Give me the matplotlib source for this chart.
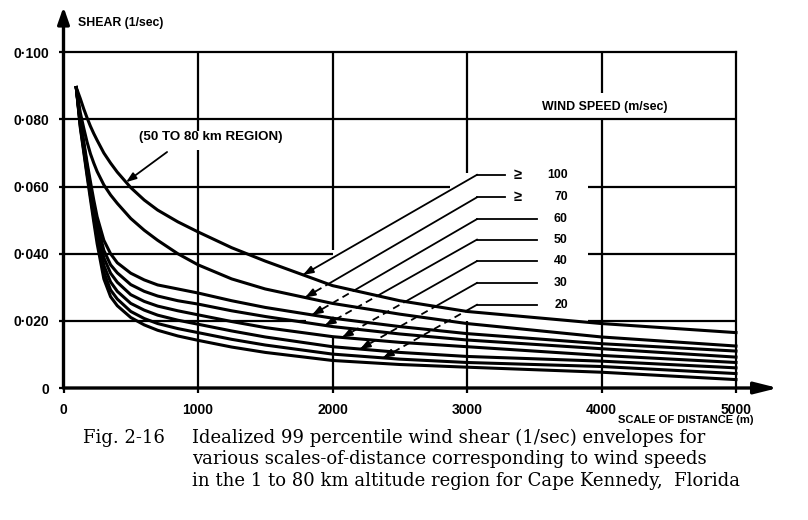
"""Idealized 99 percentile wind shear envelopes vs scale of distance (Cape Kennedy)."""
import numpy as np
import matplotlib
matplotlib.use("Agg")
import matplotlib.pyplot as plt

distance_m = [95, 125, 150, 175, 200, 225, 250, 300, 350, 400, 500, 600, 700, 850,
              1000, 1250, 1500, 2000, 2500, 3000, 4000, 5000]

# shear (1/sec) per envelope, top curve first
shear_ge100 = [0.0895, 0.0862, 0.0832, 0.0805, 0.0780, 0.0758, 0.0738, 0.0700, 0.0670,
               0.0643, 0.0597, 0.0560, 0.0530, 0.0495, 0.0465, 0.0418, 0.0378, 0.0305,
               0.0260, 0.0228, 0.0192, 0.0165]
shear_ge70 = [0.0895, 0.0820, 0.0775, 0.0733, 0.0698, 0.0670, 0.0645, 0.0605, 0.0575,
              0.0550, 0.0505, 0.0470, 0.0440, 0.0400, 0.0367, 0.0325, 0.0295, 0.0252,
              0.0220, 0.0192, 0.0152, 0.0125]
shear_60 = [0.0895, 0.0800, 0.0735, 0.0672, 0.0615, 0.0560, 0.0510, 0.0440, 0.0400,
            0.0373, 0.0342, 0.0322, 0.0307, 0.0295, 0.0283, 0.0260, 0.0240, 0.0208,
            0.0183, 0.0162, 0.0132, 0.0110]
shear_50 = [0.0895, 0.0795, 0.0728, 0.0662, 0.0602, 0.0545, 0.0490, 0.0410, 0.0367,
            0.0343, 0.0308, 0.0288, 0.0274, 0.0260, 0.0250, 0.0230, 0.0213, 0.0183,
            0.0161, 0.0143, 0.0117, 0.0092]
shear_40 = [0.0895, 0.0790, 0.0722, 0.0655, 0.0592, 0.0532, 0.0475, 0.0388, 0.0342,
            0.0315, 0.0278, 0.0258, 0.0244, 0.0230, 0.0218, 0.0198, 0.0180, 0.0153,
            0.0136, 0.0123, 0.0097, 0.0076]
shear_30 = [0.0895, 0.0785, 0.0716, 0.0648, 0.0583, 0.0520, 0.0460, 0.0365, 0.0316,
            0.0288, 0.0252, 0.0232, 0.0217, 0.0202, 0.0190, 0.0170, 0.0152, 0.0123,
            0.0106, 0.0094, 0.0080, 0.0060]
shear_20 = [0.0895, 0.0780, 0.0710, 0.0640, 0.0573, 0.0508, 0.0445, 0.0345, 0.0292,
            0.0265, 0.0228, 0.0207, 0.0192, 0.0177, 0.0165, 0.0145, 0.0128, 0.0101,
            0.0086, 0.0076, 0.0064, 0.0043]
shear_lowest = [0.0895, 0.0775, 0.0704, 0.0632, 0.0563, 0.0495, 0.0430, 0.0325, 0.0272,
                0.0245, 0.0210, 0.0188, 0.0172, 0.0155, 0.0142, 0.0122, 0.0106, 0.0082,
                0.0070, 0.0062, 0.0047, 0.0025]

curves = [shear_ge100, shear_ge70, shear_60, shear_50, shear_40, shear_30, shear_20, shear_lowest]

speed_labels = ["100", "70", "60", "50", "40", "30", "20"]
speed_ge = [True, True, False, False, False, False, False]
# where each leader arrow touches its curve (m)
leader_tip_m = [1781, 1796, 1848, 1944, 2071, 2205, 2376]
leader_row_y = [0.0635, 0.0568, 0.0503, 0.0442, 0.0378, 0.0313, 0.0248]

x_ticks = [0, 1000, 2000, 3000, 4000, 5000]
x_ticklabels = ["0", "1000", "2000", "3000", "4000", "5000"]
y_ticks = [0, 0.02, 0.04, 0.06, 0.08, 0.10]
y_ticklabels = ["0", "0\u00b7020", "0\u00b7040", "0\u00b7060", "0\u00b7080", "0\u00b7100"]

SANS = "Liberation Sans"
SERIF = "DejaVu Serif"
K = "black"

fig = plt.figure(figsize=(8.08, 5.2), dpi=100)
ax = fig.add_axes([63.5 / 808, 1 - 388 / 520, 672.5 / 808, 335.7 / 520])
ax.set_xlim(0, 5000)
ax.set_ylim(0, 0.1)

for side in ("left", "bottom"):
    ax.spines[side].set_visible(False)
for side in ("top", "right"):
    ax.spines[side].set_linewidth(1.6)

ax.set_xticks(x_ticks, x_ticklabels)
ax.set_yticks(y_ticks, y_ticklabels)
ax.tick_params(direction="out", length=3.5, width=1.6, pad=7)
for lab in ax.get_xticklabels() + ax.get_yticklabels():
    lab.set_fontfamily(SANS)
    lab.set_fontweight("bold")
    lab.set_fontsize(10)

# broken grid lines (gaps where the labels sit)
grid_h = {0.08: [(0, 5000)], 0.06: [(0, 2874), (3900, 5000)],
          0.04: [(0, 2000), (3900, 5000)], 0.02: [(0, 1800), (3900, 5000)]}
grid_v = {1000: [(0, 0.0709), (0.0766, 0.1)], 2000: [(0, 0.015), (0.041, 0.1)],
          3000: [(0, 0.020), (0.064, 0.1)], 4000: [(0, 0.080), (0.088, 0.1)]}
for y, segs in grid_h.items():
    for a, b in segs:
        ax.plot([a, b], [y, y], color=K, lw=1.6, solid_capstyle="butt")
for x, segs in grid_v.items():
    for a, b in segs:
        ax.plot([x, x], [a, b], color=K, lw=1.6, solid_capstyle="butt")

# axes with arrow heads
ax.annotate("", xy=(0, 0.1135), xytext=(0, 0), annotation_clip=False,
            arrowprops=dict(arrowstyle="-|>,head_length=1.0,head_width=0.35",
                            lw=2.4, color=K, shrinkA=0, shrinkB=0))
ax.annotate("", xy=(5312, 0), xytext=(0, 0), annotation_clip=False,
            arrowprops=dict(arrowstyle="-|>,head_length=1.4,head_width=0.35",
                            lw=2.4, color=K, shrinkA=0, shrinkB=0))

# envelopes
for c in curves:
    ax.plot(distance_m, c, color=K, lw=2.2, solid_joinstyle="round", clip_on=False)

# leaders to the wind speed labels
elbow_m = 3074
for idx, (lab, ge, tip_m, row_y) in enumerate(zip(speed_labels, speed_ge, leader_tip_m, leader_row_y)):
    tip = np.array([tip_m, np.interp(tip_m, distance_m, curves[idx])])
    elbow = np.array([elbow_m, row_y])
    t = np.linspace(0, 1, 400)
    px = tip[0] + t * (elbow[0] - tip[0])
    py = tip[1] + t * (elbow[1] - tip[1])
    above = np.nonzero(py >= np.interp(px, distance_m, shear_ge100))[0]
    t_cross = t[above[0]] if idx > 0 and len(above) else 0.0
    cross = tip + t_cross * (elbow - tip)
    if t_cross > 0:
        ax.plot([tip[0], cross[0]], [tip[1], cross[1]], color=K, lw=1.3,
                linestyle=(0, (4, 2.5)))
    ax.plot([cross[0], elbow[0]], [cross[1], elbow[1]], color=K, lw=1.3)
    end_m = 3283 if ge else 3520
    ax.plot([elbow[0], end_m], [row_y, row_y], color=K, lw=1.3)
    head_from = tip + 0.06 * (elbow - tip)
    ax.annotate("", xy=tip, xytext=head_from,
                arrowprops=dict(arrowstyle="-|>,head_length=0.6,head_width=0.22",
                                lw=1.3, color=K, shrinkA=0, shrinkB=0))
    if ge:
        ax.text(3378, row_y, "\u2265", ha="center", va="center", fontsize=10.5,
                fontfamily=SANS, fontweight="bold")
    ax.text(3750, row_y, lab, ha="right", va="center", fontsize=8.8,
            fontfamily=SANS, fontweight="bold")

# 50 to 80 km region pointer
reg_tip = (465, np.interp(465, distance_m, shear_ge100))
ax.annotate("", xy=reg_tip, xytext=(770, 0.0703),
            arrowprops=dict(arrowstyle="-|>,head_length=0.6,head_width=0.22",
                            lw=1.3, color=K, shrinkA=0, shrinkB=0))
ax.text(1097, 0.0748, "(50 TO 80 km REGION)", ha="center", va="center",
        fontsize=9.6, fontfamily=SANS, fontweight="bold")

ax.text(4026, 0.0837, "WIND SPEED (m/sec)", ha="center", va="center",
        fontsize=8.9, fontfamily=SANS, fontweight="bold")
ax.text(108, 0.1086, "SHEAR (1/sec)", ha="left", va="center", clip_on=False,
        fontsize=8.8, fontfamily=SANS, fontweight="bold")
fig.text(686 / 808, 1 - 420 / 520, "SCALE OF DISTANCE (m)", ha="center", va="center",
         fontsize=8, fontfamily=SANS, fontweight="bold")

# caption
fig.text(83 / 808, 1 - 442.7 / 520, "Fig. 2-16", ha="left", va="baseline",
         fontsize=13, fontfamily=SERIF)
caption = ["Idealized 99 percentile wind shear (1/sec) envelopes for",
           "various scales-of-distance corresponding to wind speeds",
           "in the 1 to 80 km altitude region for Cape Kennedy,  Florida"]
for i, line in enumerate(caption):
    fig.text(192 / 808, 1 - (442.7 + 21.5 * i) / 520, line, ha="left", va="baseline",
             fontsize=13, fontfamily=SERIF)

fig.savefig("out.png", dpi=100)
